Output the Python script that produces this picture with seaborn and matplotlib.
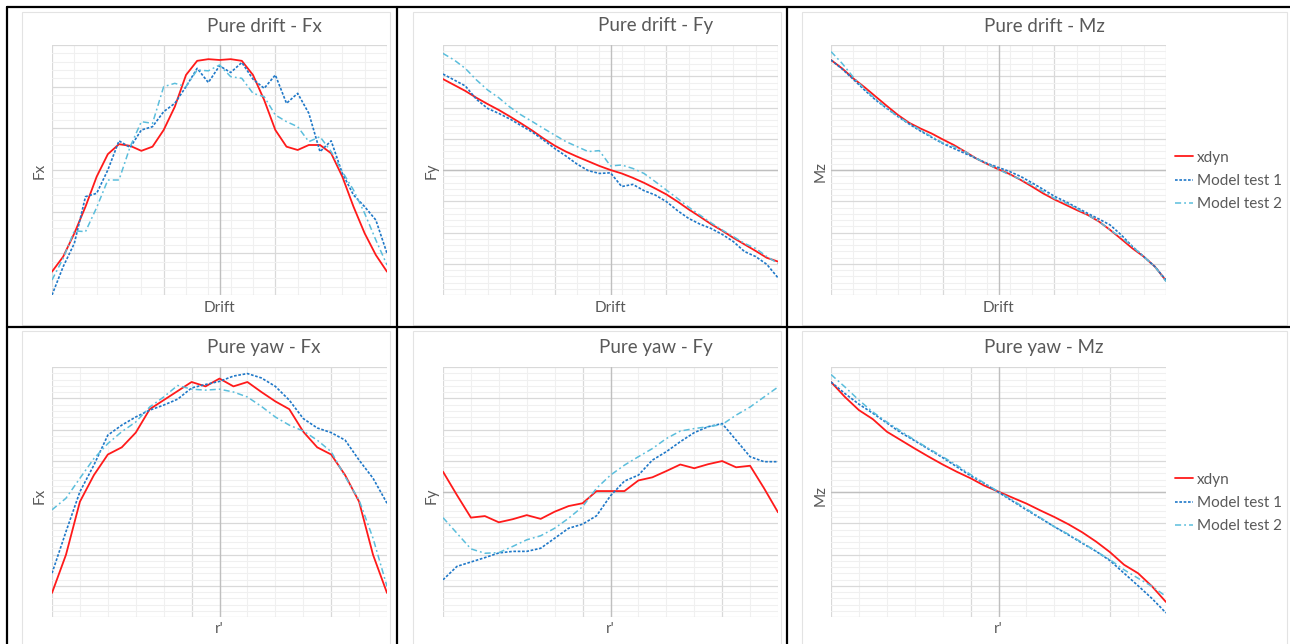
import numpy as np
import pandas as pd
import matplotlib
matplotlib.use("Agg")
import matplotlib.pyplot as plt
from matplotlib.lines import Line2D
from matplotlib.patches import Rectangle
from matplotlib.ticker import FixedLocator, NullFormatter
import seaborn as sns

sns.set_theme(style="white")
plt.rcParams["font.family"] = ["Lato", "DejaVu Sans"]

# x samples
drift_x = [-15, -14, -13, -12, -11, -10, -9, -8, -7, -6, -5, -4, -3, -2, -1, 0,
           1, 2, 3, 4, 5, 6, 7, 8, 9, 10, 11, 12, 13, 14, 15]
yaw_x = [-0.6, -0.55, -0.5, -0.45, -0.4, -0.35, -0.3, -0.25, -0.2, -0.15, -0.1, -0.05, 0.0,
         0.05, 0.1, 0.15, 0.2, 0.25, 0.3, 0.35, 0.4, 0.45, 0.5, 0.55, 0.6]

# pure drift - Fx (arbitrary units, no scale shown)
drift_fx_xdyn = [0.56, 0.92, 1.48, 2.12, 2.84, 3.38, 3.62, 3.58, 3.46, 3.56, 3.96, 4.52, 5.28, 5.62, 5.66, 5.64,
                 5.66, 5.62, 5.28, 4.68, 3.96, 3.56, 3.48, 3.60, 3.60, 3.40, 2.84, 2.12, 1.48, 0.96, 0.56]
drift_fx_test1 = [0.00, 0.68, 1.24, 2.36, 2.44, 3.00, 3.70, 3.54, 3.96, 4.04, 4.40, 4.60, 5.00, 5.44, 5.10, 5.50,
                  5.34, 5.58, 5.18, 4.96, 5.28, 4.60, 4.84, 4.36, 3.44, 3.70, 2.92, 2.40, 2.12, 1.80, 1.00]
drift_fx_test2 = [0.36, 0.88, 1.54, 1.52, 2.10, 2.76, 2.76, 3.56, 4.16, 4.12, 5.00, 5.08, 5.00, 5.40, 5.38, 5.52,
                  5.24, 5.20, 4.84, 4.76, 4.32, 4.16, 4.04, 3.68, 3.80, 3.44, 2.96, 2.52, 1.96, 1.32, 0.72]

# pure drift - Fy
drift_fy_xdyn = [6.91, 6.72, 6.53, 6.31, 6.11, 5.92, 5.71, 5.49, 5.26, 5.01, 4.78, 4.59, 4.43, 4.28, 4.13, 4.00,
                 3.89, 3.75, 3.59, 3.41, 3.22, 2.99, 2.74, 2.51, 2.27, 2.06, 1.83, 1.62, 1.41, 1.19, 1.07]
drift_fy_test1 = [7.07, 6.88, 6.69, 6.26, 5.97, 5.81, 5.63, 5.42, 5.21, 4.96, 4.69, 4.45, 4.19, 3.98, 3.89, 3.91,
                  3.47, 3.54, 3.34, 3.20, 2.99, 2.70, 2.45, 2.27, 2.13, 1.94, 1.71, 1.39, 1.23, 0.98, 0.55]
drift_fy_test2 = [7.73, 7.52, 7.25, 6.88, 6.56, 6.31, 6.01, 5.76, 5.55, 5.33, 5.12, 4.91, 4.75, 4.59, 4.62, 4.13,
                  4.16, 4.05, 3.89, 3.63, 3.36, 3.09, 2.81, 2.56, 2.31, 2.08, 1.87, 1.65, 1.49, 1.23, 1.01]

# pure drift - Mz
drift_mz_xdyn = [7.52, 7.25, 6.93, 6.65, 6.35, 6.05, 5.76, 5.51, 5.33, 5.17, 4.98, 4.80, 4.59, 4.37, 4.19, 4.02,
                 3.87, 3.68, 3.47, 3.25, 3.06, 2.89, 2.72, 2.56, 2.35, 2.08, 1.79, 1.49, 1.23, 0.91, 0.46]
drift_mz_test1 = [7.52, 7.23, 6.90, 6.56, 6.24, 5.97, 5.71, 5.47, 5.25, 5.05, 4.85, 4.69, 4.53, 4.37, 4.21, 4.08,
                  3.95, 3.79, 3.59, 3.38, 3.16, 2.99, 2.80, 2.61, 2.43, 2.24, 1.92, 1.55, 1.23, 0.91, 0.48]
drift_mz_test2 = [7.79, 7.41, 6.97, 6.59, 6.27, 5.97, 5.71, 5.49, 5.28, 5.07, 4.87, 4.75, 4.59, 4.37, 4.19, 4.02,
                  3.84, 3.70, 3.52, 3.31, 3.09, 2.95, 2.77, 2.56, 2.35, 2.08, 1.84, 1.55, 1.23, 0.91, 0.43]

# pure yaw - Fx
yaw_fx_xdyn = [0.77, 1.99, 3.69, 4.54, 5.20, 5.43, 5.90, 6.65, 6.94, 7.23, 7.52, 7.38, 7.63,
               7.38, 7.52, 7.20, 6.90, 6.65, 5.93, 5.43, 5.20, 4.54, 3.69, 1.99, 0.77]
yaw_fx_test1 = [1.40, 2.73, 4.01, 4.86, 5.82, 6.14, 6.40, 6.62, 6.78, 6.97, 7.33, 7.44, 7.54,
                7.71, 7.79, 7.65, 7.38, 6.94, 6.35, 6.05, 5.90, 5.66, 5.02, 4.44, 3.64]
yaw_fx_test2 = [3.43, 3.80, 4.44, 5.07, 5.55, 5.93, 6.24, 6.72, 7.04, 7.41, 7.29, 7.26, 7.29,
                7.20, 7.04, 6.74, 6.40, 6.14, 5.95, 5.66, 5.29, 4.49, 3.74, 2.52, 0.98]

# pure yaw - Fy
yaw_fy_xdyn = [4.65, 3.90, 3.18, 3.23, 3.03, 3.13, 3.26, 3.14, 3.37, 3.55, 3.64, 4.03, 4.03,
               4.03, 4.37, 4.47, 4.67, 4.88, 4.76, 4.89, 4.99, 4.79, 4.84, 4.12, 3.35]
yaw_fy_test1 = [1.19, 1.62, 1.76, 1.90, 2.05, 2.10, 2.10, 2.20, 2.52, 2.84, 2.97, 3.24, 3.88,
                4.35, 4.54, 5.02, 5.29, 5.61, 5.90, 6.09, 6.19, 5.66, 5.13, 4.97, 4.97]
yaw_fy_test2 = [3.18, 2.68, 2.18, 2.04, 2.06, 2.26, 2.47, 2.60, 2.84, 3.16, 3.53, 4.12, 4.54,
                4.86, 5.13, 5.39, 5.71, 5.95, 6.03, 6.09, 6.16, 6.46, 6.72, 7.04, 7.36]

# pure yaw - Mz
yaw_mz_xdyn = [7.52, 7.04, 6.62, 6.33, 5.93, 5.66, 5.39, 5.13, 4.88, 4.65, 4.44, 4.20, 4.01,
               3.82, 3.63, 3.41, 3.20, 2.97, 2.71, 2.41, 2.07, 1.67, 1.40, 0.98, 0.48]
yaw_mz_test1 = [7.52, 7.15, 6.81, 6.52, 6.21, 5.90, 5.64, 5.37, 5.10, 4.81, 4.52, 4.27, 3.99,
                3.71, 3.43, 3.16, 2.89, 2.63, 2.36, 2.10, 1.80, 1.40, 1.00, 0.59, 0.13]
yaw_mz_test2 = [7.76, 7.36, 6.94, 6.56, 6.24, 5.95, 5.66, 5.39, 5.13, 4.86, 4.56, 4.28, 4.01,
                3.74, 3.46, 3.18, 2.89, 2.65, 2.38, 2.10, 1.83, 1.51, 1.24, 0.98, 0.66]

series_names = ["xdyn", "Model test 1", "Model test 2"]
colors = ["#FF1A1A", "#1F78C8", "#5BBEDC"]
styles = ["-", (0, (1.6, 1.0)), (0, (4.0, 2.0, 1.2, 2.0))]
widths = [1.3, 1.2, 1.1]

W, H = 1290, 644
TXT = "#595959"


def frac(x0, y0, x1, y1):
    return [x0 / W, 1 - y1 / H, (x1 - x0) / W, (y1 - y0) / H]


panels = [
    dict(title="Pure drift - Fx", ylab="Fx", xlab="Drift", x=drift_x,
         ys=[drift_fx_xdyn, drift_fx_test1, drift_fx_test2], ymax=6, hz=False),
    dict(title="Pure drift - Fy", ylab="Fy", xlab="Drift", x=drift_x,
         ys=[drift_fy_xdyn, drift_fy_test1, drift_fy_test2], ymax=8, hz=True),
    dict(title="Pure drift - Mz", ylab="Mz", xlab="Drift", x=drift_x,
         ys=[drift_mz_xdyn, drift_mz_test1, drift_mz_test2], ymax=8, hz=True, legend=True),
    dict(title="Pure yaw - Fx", ylab="Fx", xlab="r'", x=yaw_x,
         ys=[yaw_fx_xdyn, yaw_fx_test1, yaw_fx_test2], ymax=8, hz=False),
    dict(title="Pure yaw - Fy", ylab="Fy", xlab="r'", x=yaw_x,
         ys=[yaw_fy_xdyn, yaw_fy_test1, yaw_fy_test2], ymax=8, hz=True),
    dict(title="Pure yaw - Mz", ylab="Mz", xlab="r'", x=yaw_x,
         ys=[yaw_mz_xdyn, yaw_mz_test1, yaw_mz_test2], ymax=8, hz=True, legend=True),
]

col_x = [(52, 387), (443, 778), (831, 1166)]
row_y = [(45, 295), (367, 617)]
title_x = [264, 656, 1044]
title_y = [26, 347]
xlab_y = [308, 629]
ylab_x = [40, 432, 821]
ylab_y = [171, 496]

fig = plt.figure(figsize=(W / 100, H / 100), dpi=100)

# light chart-area frames
for (cx0, cx1) in [(22, 390), (413, 781), (802, 1287)]:
    for (cy0, cy1) in [(12, 325), (331, 660)]:
        fig.add_artist(Rectangle((cx0 / W, 1 - cy1 / H), (cx1 - cx0) / W, (cy1 - cy0) / H,
                                 transform=fig.transFigure, fill=False, ec="#E3E3E3", lw=0.8))

for i, p in enumerate(panels):
    r, c = divmod(i, 3)
    x0, x1 = col_x[c]
    y0, y1 = row_y[r]
    ax = fig.add_axes(frac(x0, y0, x1, y1))

    if p["x"] is drift_x:
        xmin, xmax = -15, 15
        xmaj = [-15, -5, 5, 15]
        xmin_ticks = list(range(-15, 16, 2))
    else:
        xmin, xmax = -0.6, 0.6
        xmaj = [-0.6, -0.1, 0.4]
        xmin_ticks = list(np.round(np.arange(-0.6, 0.61, 0.1), 2))
    ax.set_xlim(xmin, xmax)
    ax.set_ylim(0, p["ymax"])
    ax.xaxis.set_major_locator(FixedLocator(xmaj))
    ax.xaxis.set_minor_locator(FixedLocator(xmin_ticks))
    ax.yaxis.set_major_locator(FixedLocator(list(range(0, p["ymax"] + 1))))
    ax.yaxis.set_minor_locator(FixedLocator(list(np.round(np.arange(0, p["ymax"] + 0.01, 0.2), 2))))
    ax.grid(which="minor", color="#F0F0F0", lw=0.8, zorder=0)
    ax.grid(which="major", color="#D9D9D9", lw=0.9, zorder=0)
    ax.tick_params(which="both", length=0, labelbottom=False, labelleft=False)
    ax.xaxis.set_major_formatter(NullFormatter())
    ax.yaxis.set_major_formatter(NullFormatter())
    for s in ax.spines.values():
        s.set_visible(False)
    ax.axvline(0, color="#BFBFBF", lw=1.0, zorder=1)
    if p["hz"]:
        ax.axhline(p["ymax"] / 2, color="#BFBFBF", lw=1.0, zorder=1)
    ax.set_facecolor("white")

    for name, yv, col, ls, lw in zip(series_names, p["ys"], colors, styles, widths):
        sns.lineplot(x=p["x"], y=yv, ax=ax, color=col, linestyle=ls, lw=lw,
                     label=name if p.get("legend") else None, legend=False, zorder=3)
    ax.set_xlabel("")
    ax.set_ylabel("")

    if p.get("legend"):
        handles = [Line2D([], [], color=col, linestyle=ls, lw=lw)
                   for col, ls, lw in zip(colors, styles, widths)]
        cy = 181 if r == 0 else 503
        leg = ax.legend(handles, series_names, loc="center left",
                        bbox_to_anchor=(1175 / W, 1 - cy / H), bbox_transform=fig.transFigure,
                        frameon=False, fontsize=11, handlelength=1.2, handletextpad=0.25,
                        labelspacing=0.62, borderpad=0, borderaxespad=0)
        for t in leg.get_texts():
            t.set_color(TXT)

    fig.text(title_x[c] / W, 1 - title_y[r] / H, p["title"], ha="center", va="center",
             fontsize=13.5, color=TXT)
    fig.text((x0 + x1) / 2 / W, 1 - xlab_y[r] / H, p["xlab"], ha="center", va="center",
             fontsize=11, color=TXT)
    fig.text(ylab_x[c] / W, 1 - ylab_y[r] / H, p["ylab"], ha="center", va="center",
             rotation=90, fontsize=11, color=TXT)

# table borders
for (xa, ya, xb, yb) in [(7, 7, W, 7), (7, 7, 7, H), (397, 7, 397, H), (787, 7, 787, H), (7, 327, W, 327)]:
    fig.add_artist(Line2D([xa / W, xb / W], [1 - ya / H, 1 - yb / H], transform=fig.transFigure,
                          color="black", lw=1.6))

fig.savefig("out.png", dpi=100, facecolor="white")
